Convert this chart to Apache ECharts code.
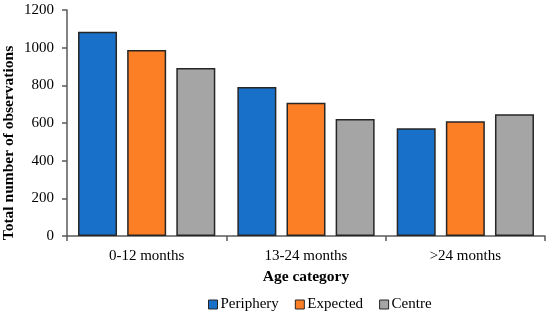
<!DOCTYPE html>
<html><head><meta charset="utf-8">
<script src="https://cdn.jsdelivr.net/npm/echarts@6/dist/echarts.min.js"></script>
<style>html,body{margin:0;padding:0;background:#fff}#c{width:550px;height:320px}</style>
</head><body><div id="c"></div>
<script>
var categories = ['0-12 months', '13-24 months', '>24 months'];
var periphery = [1085, 791, 572];
var expected = [988, 707, 609];
var centre = [892, 621, 646];
var yTicks = [0, 200, 400, 600, 800, 1000, 1200];

var font = 'Liberation Serif';
var chart = echarts.init(document.getElementById('c'), null, {renderer: 'canvas'});
function ser(name, data, color) {
  return {name: name, type: 'bar', data: data, barWidth: 39, barGap: '26%',
    itemStyle: {color: color, borderColor: '#262626', borderWidth: 1.5}};
}
chart.setOption({
  animation: false,
  textStyle: {fontFamily: font},
  grid: {left: 67, top: 10, right: 5, bottom: 84, containLabel: false, outerBoundsMode: 'none'},
  legend: {bottom: 3, left: 203, icon: 'rect', itemWidth: 9, itemHeight: 9, itemGap: 16,
    textStyle: {fontFamily: font, fontSize: 15, color: '#000', padding: [0, 0, 0, -2]},
    itemStyle: {borderColor: '#262626', borderWidth: 1}},
  xAxis: {type: 'category', data: categories,
    name: 'Age category', nameLocation: 'middle', nameGap: 33, nameMoveOverlap: false,
    nameTextStyle: {fontFamily: font, fontSize: 15.5, fontWeight: 'bold', color: '#000'},
    axisLine: {lineStyle: {color: '#595959', width: 1.5}},
    axisTick: {show: true, length: 5, lineStyle: {color: '#595959', width: 1.5}},
    axisLabel: {fontFamily: font, fontSize: 15, color: '#000', margin: 13}},
  yAxis: {type: 'value', min: yTicks[0], max: yTicks[yTicks.length - 1], interval: 200,
    name: 'Total number of observations', nameLocation: 'middle', nameGap: 50, nameMoveOverlap: false,
    nameTextStyle: {fontFamily: font, fontSize: 15.5, fontWeight: 'bold', color: '#000', padding: [0, 40, 0, 0]},
    splitLine: {show: false},
    axisLine: {show: true, lineStyle: {color: '#595959', width: 1.5}},
    axisTick: {show: true, length: 5, lineStyle: {color: '#595959', width: 1.5}},
    axisLabel: {fontFamily: font, fontSize: 15, color: '#000', margin: 13,
      formatter: function (v) { return String(v); }}},
  series: [ser('Periphery', periphery, '#1870C9'), ser('Expected', expected, '#FD7F25'), ser('Centre', centre, '#A5A5A5')]
});
</script></body></html>
